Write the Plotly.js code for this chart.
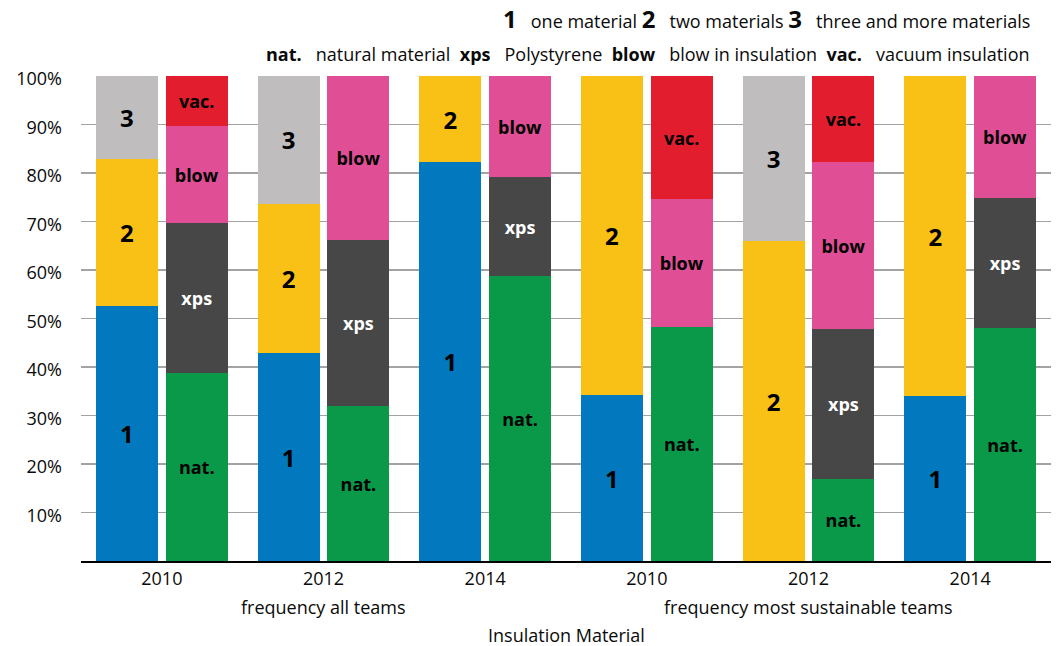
<!DOCTYPE html>
<html><head><meta charset="utf-8">
<script src="https://cdn.plot.ly/plotly-3.0.1.min.js"></script>
<style>html,body{margin:0;padding:0;background:#fff}#chart{width:1056px;height:646px}</style>
</head><body><div id="chart"></div>
<script>
// x categories
const years = ["2010", "2012", "2014", "2010", "2012", "2014"];
const groupLabels = ["frequency all teams", "frequency most sustainable teams"];
const groupLabelAt = [1, 4];
const axisTitle = "Insulation Material";
const yTicks = [10, 20, 30, 40, 50, 60, 70, 80, 90, 100];

// left bar: number of materials used (%)
const oneMaterial    = [52.5, 42.8, 82.2, 34.2, 0,    34.0];
const twoMaterials   = [30.3, 30.9, 17.8, 65.8, 65.9, 66.0];
const threeMaterials = [17.2, 26.3, 0,    0,    34.1, 0];

// right bar: kind of insulation (%)
const naturalMat  = [38.7, 31.9, 58.7, 48.2, 16.9, 48.0];
const polystyrene = [30.9, 34.2, 20.4, 0,    30.9, 26.8];
const blowIn      = [20.1, 33.9, 20.9, 26.4, 34.4, 25.2];
const vacuum      = [10.3, 0,    0,    25.4, 17.8, 0];

const FONT = '"Open Sans", "Liberation Sans", sans-serif';

const leftSeries = [
  {key: "1", name: "one material", vals: oneMaterial, color: "#0279bf", txt: "#000"},
  {key: "2", name: "two materials", vals: twoMaterials, color: "#f9c016", txt: "#000"},
  {key: "3", name: "three and more materials", vals: threeMaterials, color: "#bfbdbe", txt: "#000"}
];
const rightSeries = [
  {key: "nat.", name: "natural material", vals: naturalMat, color: "#0a9849", txt: "#000"},
  {key: "xps", name: "Polystyrene", vals: polystyrene, color: "#474747", txt: "#fff"},
  {key: "blow", name: "blow in insulation", vals: blowIn, color: "#e04f95", txt: "#000"},
  {key: "vac.", name: "vacuum insulation", vals: vacuum, color: "#e21e2e", txt: "#000"}
];

const OFF = 0.216, W = 0.383;
function mk(s, off, size) {
  return {
    type: "bar",
    name: s.name,
    x: years.map((_, i) => i + off),
    y: s.vals.map(v => v > 0 ? v : null),
    width: W,
    marker: {color: s.color, line: {width: 0}},
    text: s.vals.map(v => v > 0 ? s.key : ""),
    textposition: "inside",
    insidetextanchor: "middle",
    textangle: 0,
    constraintext: "none",
    textfont: {family: FONT, size: size, color: s.txt, weight: "bold"},
    hoverinfo: "skip",
    showlegend: false
  };
}
const traces = [
  ...leftSeries.map(s => mk(s, -OFF, 24)),
  ...rightSeries.map(s => mk(s, OFF, 18))
];

const sp = "\u00a0";
const line1 = leftSeries.map(s => `<span style="font-size:24px"><b>${s.key}</b></span>${sp.repeat(3)}${s.name}`).join(sp);
const line2 = rightSeries.map(s => `<b>${s.key}</b>${sp.repeat(3)}${s.name}`).join(sp.repeat(2));

const annotations = [
  {xref: "paper", yref: "paper", x: 0.9804, y: 1.1195, xanchor: "right", yanchor: "middle",
   text: line1, showarrow: false, font: {family: FONT, size: 18, color: "#0a0a0a"}},
  {xref: "paper", yref: "paper", x: 0.9804, y: 1.0454, xanchor: "right", yanchor: "middle",
   text: line2, showarrow: false, font: {family: FONT, size: 18, color: "#0a0a0a"}},
  ...groupLabels.map((t, k) => ({xref: "x", yref: "paper", x: groupLabelAt[k], y: -0.0948,
   xanchor: "center", yanchor: "middle", text: t, showarrow: false,
   font: {family: FONT, size: 18, color: "#0a0a0a"}})),
  {xref: "paper", yref: "paper", x: 0.5, y: -0.1526, xanchor: "center", yanchor: "middle",
   text: axisTitle, showarrow: false, font: {family: FONT, size: 18, color: "#0a0a0a"}}
];

const layout = {
  width: 1056, height: 646,
  margin: {l: 81, r: 5, t: 76, b: 85},
  paper_bgcolor: "#fff", plot_bgcolor: "#fff",
  barmode: "stack", bargap: 0,
  font: {family: FONT, size: 18, color: "#0a0a0a"},
  xaxis: {
    range: [-0.5, 5.5], tickmode: "array", tickvals: years.map((_, i) => i), ticktext: years,
    showgrid: false, zeroline: false, showline: true, linecolor: "#000", linewidth: 2,
    ticks: "", tickfont: {family: FONT, size: 18, color: "#0a0a0a"}, fixedrange: true
  },
  yaxis: {
    range: [0, 100], tickmode: "array", tickvals: yTicks, ticktext: yTicks.map(v => v + "%"),
    showgrid: true, gridcolor: "#a3a3a3", gridwidth: 1.5, zeroline: false, showline: false,
    ticks: "", tickfont: {family: FONT, size: 18, color: "#0a0a0a"}, ticklabelstandoff: 18,
    ticklabelshift: 3, fixedrange: true
  },
  annotations: annotations
};

Plotly.newPlot("chart", traces, layout, {displayModeBar: false, staticPlot: true});
</script>
</body></html>
